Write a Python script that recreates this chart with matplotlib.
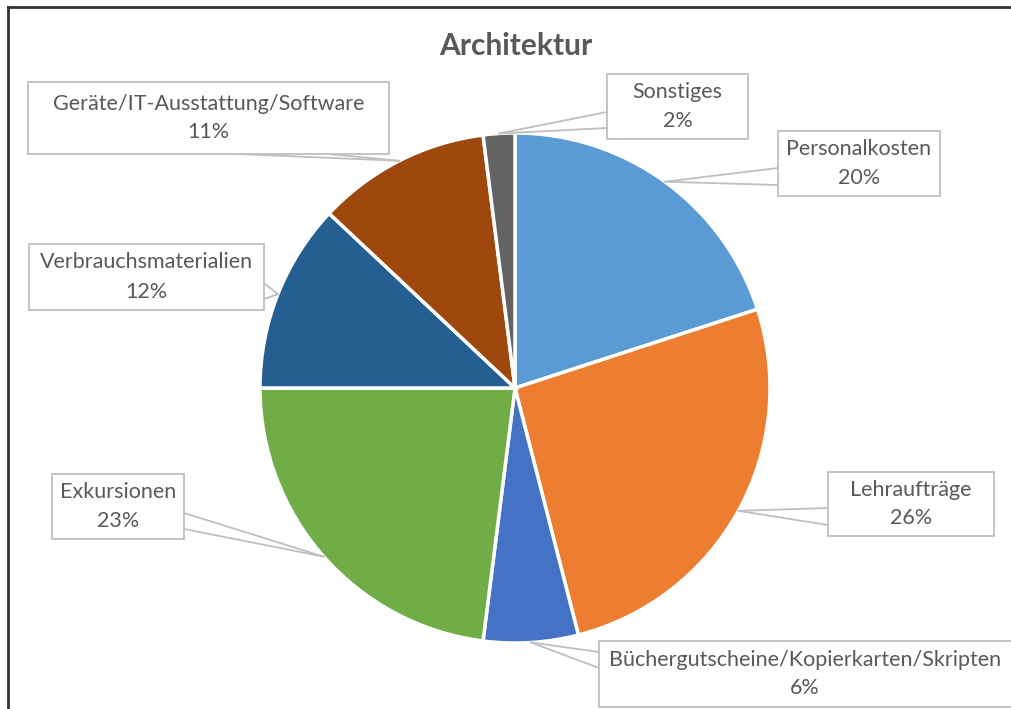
import numpy as np
import matplotlib
matplotlib.use("Agg")
import matplotlib.pyplot as plt
from matplotlib.patches import Rectangle

# data
categories = ["Personalkosten", "Lehraufträge", "Büchergutscheine/Kopierkarten/Skripten",
              "Exkursionen", "Verbrauchsmaterialien", "Geräte/IT-Ausstattung/Software",
              "Sonstiges"]
shares = [20, 26, 6, 23, 12, 11, 2]
colors = ["#5B9BD5", "#ED7D31", "#4472C4", "#70AD47", "#255E91", "#9E480E", "#636363"]

# label boxes in pixel coords (x0, y0, x1, y1), y from top
boxes = [
    (778, 131, 940, 196),
    (828, 472, 994, 536),
    (599, 641, 1016, 707),
    (52, 474, 184, 539),
    (29, 244, 264, 310),
    (28, 82, 389, 154),
    (607, 74, 748, 139),
]
# callout base points on box edge
bases = [
    [(778, 168), (778, 185)],
    [(828, 508), (828, 525)],
    [(599, 652), (599, 668)],
    [(184, 513), (184, 529)],
    [(264, 283), (264, 299)],
    [(237, 154), (328, 154)],
    [(607, 112), (607, 128)],
]

W, H = 1011, 709
plt.rcParams['font.family'] = ['Lato', 'DejaVu Sans']
fig = plt.figure(figsize=(W / 100, H / 100), dpi=100)
ax = fig.add_axes([0, 0, 1, 1])

cx, cy, r = 515, H - 388, 255
wedges, _ = ax.pie(shares, colors=colors, startangle=90, counterclock=False,
                   center=(cx, cy), radius=r,
                   wedgeprops=dict(edgecolor="white", linewidth=2.5))
ax.set_xlim(0, W)
ax.set_ylim(0, H)
ax.set_aspect("equal")
ax.axis("off")

total = sum(shares)
grey = "#BFBFBF"
txt = "#595959"
for w, name, val, (x0, y0, x1, y1), bp in zip(wedges, categories, shares, boxes, bases):
    mid = np.deg2rad((w.theta1 + w.theta2) / 2)
    tip = (cx + r * np.cos(mid), cy + r * np.sin(mid))
    for bx, by in bp:
        ax.plot([bx, tip[0]], [H - by, tip[1]], color=grey, lw=1.3, zorder=3,
                solid_capstyle="round")
    ax.add_patch(Rectangle((x0, H - y1), x1 - x0, y1 - y0, facecolor="white",
                           edgecolor=grey, lw=1.3, zorder=4, clip_on=False))
    ycen = H - (y0 + y1) / 2
    xm = (x0 + x1) / 2 if x1 <= W else 805
    ax.text(xm, ycen + 14.5, name, ha="center", va="center", fontsize=15.5,
            color=txt, zorder=5)
    ax.text(xm, ycen - 14.5, f"{round(100 * val / total)}%", ha="center",
            va="center", fontsize=15.5, color=txt, zorder=5)

ax.text(516, H - 46, "Architektur", ha="center", va="center", fontsize=21.5,
        fontweight="bold", color=txt)

# chart border (top and left visible)
ax.plot([8, 8], [0, H - 7], color="#333333", lw=2, clip_on=False)
ax.plot([8, W], [H - 7, H - 7], color="#333333", lw=2, clip_on=False)

fig.savefig("out.png", dpi=100)
